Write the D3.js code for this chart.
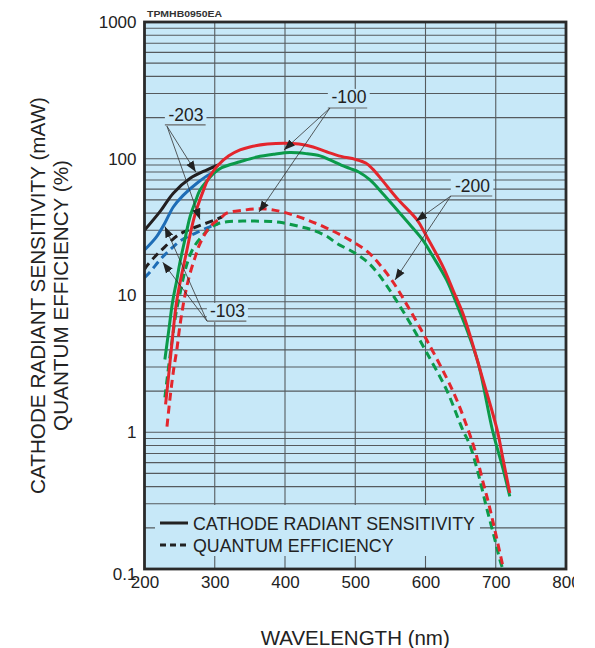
<!DOCTYPE html>
<html>
<head>
<meta charset="utf-8">
<script src="https://cdn.jsdelivr.net/npm/d3@7"></script>
<style>
  html, body { margin: 0; padding: 0; background: #fff; }
  svg { display: block; font-family: "Liberation Sans", Arial, Helvetica, sans-serif; }
</style>
</head>
<body>
<div id="chart"></div>
<script>
// Spectral response: cathode radiant sensitivity (mA/W) and quantum efficiency (%)
// Each point is [wavelength nm, value]

const red_sensitivity = [[230,1.6],[235,2.8],[240,5],[245,8.5],[250,12],[255,16],[260,21],[265,28],[270,36],[275,44],[284,59],[290,70],[297,80],[305,90],[320,105],[336,116],[350,122],[375,128],[400,130],[420,128],[440,122],[460,112],[480,104],[500,99],[515,93],[525,84],[540,68],[560,51],[588,35.7],[600,28],[625,16.2],[640,10.7],[653,7.45],[665,4.8],[680,2.6],[702,1.04],[710,0.65],[720,0.36]];

const green_sensitivity = [[229,3.4],[235,5.8],[240,9],[246,13],[250,17],[257,25],[265,38],[272,48],[279,59],[290,70],[298,78],[310,86],[336,95],[360,103],[385,108],[407,111],[430,109],[450,105],[464,98],[480,90],[492,85],[505,80],[521,70],[540,55],[560,42],[580,32],[596,25.5],[610,19.5],[630,13],[645,8.5],[659,5.6],[675,3.2],[696,1.0],[710,0.55],[720,0.34]];

const black_sensitivity = [[200,30],[222,41],[241,56],[265,72],[289,83],[305,90]];

const blue_sensitivity = [[200,21.5],[217,26.8],[229,33.9],[241,44.4],[255,54],[275,66.5],[293,77],[300,79]];

const red_qe = [[232,1.1],[237,1.9],[242,3],[246,4],[250,5.8],[255,8.5],[260,11.5],[265,14.6],[272,19],[279,24],[293,31.7],[310,37.5],[317,40],[340,42],[360,43],[380,42.5],[403,40],[430,36],[460,31],[492,25.5],[517,21],[535,16.8],[554,12.5],[578,7.8],[602,4.7],[630,2.5],[645,1.7],[659,1.1],[670,0.75],[682,0.43],[690,0.3],[699,0.19],[711,0.1]];

const green_qe = [[229,1.8],[235,3.2],[240,5],[245,7.5],[250,10],[256,14],[262,18],[270,22.5],[279,26],[293,31],[305,33.5],[317,34.6],[340,35],[357,35],[380,34.8],[397,34],[420,32],[440,30],[460,27],[474,24],[497,20.8],[515,18],[531,14.8],[554,10],[578,6.3],[602,3.8],[630,2.04],[653,1.04],[663,0.81],[675,0.5],[687,0.28],[698,0.17],[706,0.116],[710,0.1]];

const black_qe = [[200,15.5],[203,16.4],[215,19.3],[229,22.7],[248,27.7],[265,30.5],[281,32.8],[300,35.7],[310,37.5]];

const blue_qe = [[200,13.5],[208,14.9],[224,18.7],[240,22.5],[253,25.5],[272,28.5],[293,31.8],[305,33.5]];

const xTicks = [200, 300, 400, 500, 600, 700, 800];
const yTicks = [0.1, 1, 10, 100, 1000];
const yTickLabels = ["0.1", "1", "10", "100", "1000"];

const legendLabels = ["CATHODE RADIANT SENSITIVITY", "QUANTUM EFFICIENCY"];
const yTitleLines = ["CATHODE RADIANT SENSITIVITY (mAW)", "QUANTUM EFFICIENCY (%)"];
const xTitle = "WAVELENGTH (nm)";
const codeLabel = "TPMHB0950EA";

// Type-number callouts: label anchor and arrow tips in data units [nm, value]
const callouts = [
  { text: "-203", center: [259, 189], lineFrom: 229, lineTo: 287, lineVal: 177, origin: [232, 173], tips: [[273, 80], [279, 36]] },
  { text: "-103", center: [318, 6.97], lineFrom: 289, lineTo: 345, lineVal: 6.5, origin: [289, 6.5], tips: [[229, 32], [226, 17.5]] },
  { text: "-100", center: [491, 256], lineFrom: 461, lineTo: 517, lineVal: 235, origin: [464, 235], tips: [[398.6, 116], [363, 40.8]] },
  { text: "-200", center: [667, 57.5], lineFrom: 636, lineTo: 695, lineVal: 53.4, origin: [636, 53.4], tips: [[586.5, 35], [556.6, 13]] }
];

const COLORS = { red: "#e3262d", green: "#0b9a4a", blue: "#1e6db6", black: "#231f20" };
const BG = "#c7e8f8";
const GRID = "#555a5e";

const W = 574, H = 648;
const plot = { left: 144.5, right: 566, top: 22, bottom: 569 };

const svg = d3.select("#chart").append("svg").attr("width", W).attr("height", H);

const x = d3.scaleLinear().domain([200, 800]).range([plot.left, plot.right]);
const y = d3.scaleLog().domain([0.1, 1000]).range([plot.bottom, plot.top]);

const defs = svg.append("defs");
defs.append("clipPath").attr("id", "plotclip").append("rect")
  .attr("x", plot.left).attr("y", plot.top)
  .attr("width", plot.right - plot.left).attr("height", plot.bottom - plot.top);
defs.append("marker").attr("id", "arrow")
  .attr("viewBox", "0 0 10 10").attr("refX", 10).attr("refY", 5)
  .attr("markerWidth", 11).attr("markerHeight", 11).attr("markerUnits", "userSpaceOnUse")
  .attr("orient", "auto")
  .append("path").attr("d", "M0,1.2 L10,5 L0,8.8 Z").attr("fill", "#222");

// Plot background
svg.append("rect")
  .attr("x", plot.left).attr("y", plot.top)
  .attr("width", plot.right - plot.left).attr("height", plot.bottom - plot.top)
  .attr("fill", BG);

// Grid: logarithmic minor lines and wavelength lines
const gridVals = [];
for (let e = -1; e < 3; e++) {
  for (let m = 1; m <= 9; m++) {
    const v = m * Math.pow(10, e);
    if (v > 0.1 + 1e-9) gridVals.push(v);
  }
}
const grid = svg.append("g").attr("stroke", GRID).attr("stroke-width", 1.1);
grid.selectAll("line.h").data(gridVals).join("line").attr("class", "h")
  .attr("x1", plot.left).attr("x2", plot.right)
  .attr("y1", d => y(d)).attr("y2", d => y(d));
grid.selectAll("line.v").data(xTicks.slice(1, -1)).join("line").attr("class", "v")
  .attr("x1", d => x(d)).attr("x2", d => x(d))
  .attr("y1", plot.top).attr("y2", plot.bottom);

// Legend panel masks the grid behind it
const legendBox = { x: plot.left + 10.5, y: plot.bottom - 64, w: 325, h: 51 };
svg.append("rect").attr("x", legendBox.x).attr("y", legendBox.y)
  .attr("width", legendBox.w).attr("height", legendBox.h).attr("fill", BG);

// Curves
const line = d3.line()
  .x(d => x(d[0])).y(d => y(d[1]))
  .curve(d3.curveCatmullRom.alpha(0.5));

const curves = svg.append("g").attr("clip-path", "url(#plotclip)").attr("fill", "none")
  .attr("stroke-linejoin", "round");

const series = [
  { data: black_qe, color: COLORS.black, dashed: true },
  { data: blue_qe, color: COLORS.blue, dashed: true },
  { data: green_qe, color: COLORS.green, dashed: true },
  { data: red_qe, color: COLORS.red, dashed: true },
  { data: black_sensitivity, color: COLORS.black, dashed: false },
  { data: blue_sensitivity, color: COLORS.blue, dashed: false },
  { data: green_sensitivity, color: COLORS.green, dashed: false },
  { data: red_sensitivity, color: COLORS.red, dashed: false }
];
curves.selectAll("path").data(series).join("path")
  .attr("d", d => line(d.data))
  .attr("stroke", d => d.color)
  .attr("stroke-width", 3)
  .attr("stroke-dasharray", d => d.dashed ? "8,5" : null);

// Callouts with label panels, underline and leader arrows
const callG = svg.append("g");
callouts.forEach(c => {
  const g = callG.append("g");
  const bg = g.append("rect").attr("fill", BG);
  const t = g.append("text")
    .attr("x", x(c.center[0])).attr("y", y(c.center[1]))
    .attr("text-anchor", "middle")
    .attr("font-size", 17.5).attr("fill", "#222")
    .text(c.text);
  const bb = t.node().getBBox();
  const uy = y(c.lineVal);
  bg.attr("x", Math.min(bb.x - 3, x(c.lineFrom))).attr("y", bb.y + 2)
    .attr("width", Math.max(bb.x + bb.width + 3, x(c.lineTo)) - Math.min(bb.x - 3, x(c.lineFrom)))
    .attr("height", uy - bb.y - 1);
  g.append("line")
    .attr("x1", x(c.lineFrom)).attr("x2", x(c.lineTo))
    .attr("y1", uy).attr("y2", uy)
    .attr("stroke", "#666").attr("stroke-width", 1.2);
  c.tips.forEach(tip => {
    g.append("line")
      .attr("x1", x(c.origin[0])).attr("y1", y(c.origin[1]))
      .attr("x2", x(tip[0])).attr("y2", y(tip[1]))
      .attr("stroke", "#333").attr("stroke-width", 0.8)
      .attr("marker-end", "url(#arrow)");
  });
});

// Legend
const leg = svg.append("g");
legendLabels.forEach((lab, i) => {
  const ly = legendBox.y + 18 + i * 22;
  leg.append("line")
    .attr("x1", legendBox.x + 5).attr("x2", legendBox.x + 33)
    .attr("y1", ly).attr("y2", ly)
    .attr("stroke", "#222").attr("stroke-width", 3)
    .attr("stroke-dasharray", i === 1 ? "6,4" : null);
  leg.append("text")
    .attr("x", legendBox.x + 38).attr("y", ly + 7)
    .attr("font-size", 17.8).attr("fill", "#222")
    .text(lab);
});

// Frame
svg.append("rect")
  .attr("x", plot.left).attr("y", plot.top)
  .attr("width", plot.right - plot.left).attr("height", plot.bottom - plot.top)
  .attr("fill", "none").attr("stroke", "#2a2a2a").attr("stroke-width", 2.8);

// Axes (labels only)
const xAxis = svg.append("g")
  .attr("transform", `translate(0,${plot.bottom})`)
  .call(d3.axisBottom(x).tickValues(xTicks).tickSize(0).tickPadding(7).tickFormat(d3.format("d")));
const yAxis = svg.append("g")
  .attr("transform", `translate(${plot.left},0)`)
  .call(d3.axisLeft(y).tickValues(yTicks).tickSize(0).tickPadding(8)
    .tickFormat((d, i) => yTickLabels[i]));
[xAxis, yAxis].forEach(a => {
  a.select(".domain").remove();
  a.selectAll("text")
    .attr("font-size", 17)
    .attr("font-family", "\"Liberation Sans\", Arial, sans-serif")
    .attr("fill", "#222");
});
yAxis.selectAll(".tick").filter(d => d === 0.1).select("text").attr("dy", "0.62em");

// Axis titles
const cy = (plot.top + plot.bottom) / 2;
yTitleLines.forEach((txt, i) => {
  svg.append("text")
    .attr("transform", `translate(${45 + i * 23},${cy}) rotate(-90)`)
    .attr("text-anchor", "middle")
    .attr("font-size", 20.7).attr("fill", "#222")
    .text(txt);
});
svg.append("text")
  .attr("x", (plot.left + plot.right) / 2).attr("y", 645)
  .attr("text-anchor", "middle")
  .attr("font-size", 20.5).attr("fill", "#222")
  .text(xTitle);

// Drawing code
svg.append("text")
  .attr("x", plot.left + 2.5).attr("y", 16.5)
  .attr("font-size", 9.5).attr("font-weight", "bold").attr("fill", "#333")
  .attr("textLength", 75).attr("lengthAdjust", "spacingAndGlyphs")
  .text(codeLabel);
</script>
</body>
</html>
